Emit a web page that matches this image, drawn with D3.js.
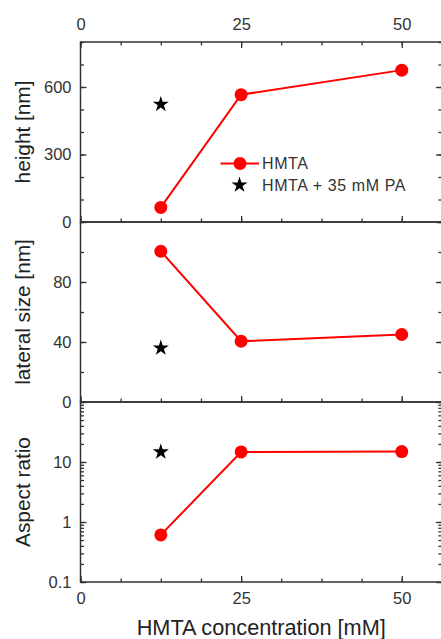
<!DOCTYPE html>
<html>
<head>
<meta charset="utf-8">
<script src="https://cdn.jsdelivr.net/npm/d3@7"></script>
<style>
  body { margin: 0; background: #fff; }
  text { font-family: "Liberation Sans", Arial, sans-serif; }
</style>
</head>
<body>
<svg id="chart" width="441" height="639"></svg>
<script>
// HMTA concentration (x) in mM
var concentrations = [12.5, 25, 50];
var heightHMTA = [65, 566, 675];
var lateralHMTA = [100.5, 40.5, 45];
var aspectHMTA = [0.61, 14.7, 14.9];

// HMTA + 35 mM PA (single point)
var concPA = [12.5];
var heightPA = [523];
var lateralPA = [36];
var aspectPA = [14.7];

var xTicks = [0, 25, 50];
var heightTicks = [0, 300, 600];
var lateralTicks = [0, 40, 80];
var aspectTicks = [0.1, 1, 10];

var legendLabels = ["HMTA", "HMTA + 35 mM PA"];

// Colours
var lineColour = '#ff0000';
var starColour = '#000000';
var axisColour = '#333333';
var labelColour = '#333333';
var titleColour = '#222222';

var svg = d3.select("#chart");

var left = 80.5, right = 441.9;
var x = d3.scaleLinear().domain([0, 56.25]).range([left, right]);
var xMinor = d3.range(0, 56.3, 6.25);

var panels = [
  {
    title: "height [nm]",
    y: d3.scaleLinear().domain([0, 800]).range([222, 42]),
    ticks: heightTicks,
    minor: d3.range(0, 801, 100),
    line: heightHMTA,
    star: heightPA
  },
  {
    title: "lateral size [nm]",
    y: d3.scaleLinear().domain([0, 120]).range([402, 222]),
    ticks: lateralTicks,
    minor: d3.range(0, 121, 20),
    line: lateralHMTA,
    star: lateralPA
  },
  {
    title: "Aspect ratio",
    y: d3.scaleLog().domain([0.1, 100]).range([582, 402]),
    ticks: aspectTicks,
    minor: [0.1, 1, 10].flatMap(function (d) { return d3.range(1, 10).map(function (k) { return d * k; }); }).concat([100]),
    line: aspectHMTA,
    star: aspectPA
  }
];

function styleAxis(g, fontSize) {
  g.select(".domain").remove();
  g.selectAll("line").attr("stroke", axisColour).attr("stroke-width", 1.3);
  g.selectAll("text")
    .attr("fill", labelColour)
    .style("font-family", '"Liberation Sans", Arial, sans-serif')
    .style("font-size", fontSize + "px");
}

var star = d3.symbol().type(d3.symbolStar).size(80);

panels.forEach(function (p, i) {
  var y = p.y;
  var top = y.range()[1], bottom = y.range()[0];

  // left axis, major + minor ticks inward
  svg.append("g").attr("transform", "translate(" + left + ",0)")
    .call(d3.axisLeft(y).tickValues(p.ticks).tickFormat(d3.format("~g")).tickSize(-6).tickPadding(9))
    .call(styleAxis, 16.5);
  svg.append("g").attr("transform", "translate(" + left + ",0)")
    .call(d3.axisLeft(y).tickValues(p.minor).tickFormat("").tickSize(-3.5))
    .call(styleAxis, 16.5);

  // right axis, no labels
  svg.append("g").attr("transform", "translate(" + right + ",0)")
    .call(d3.axisRight(y).tickValues(p.ticks).tickFormat("").tickSize(-6))
    .call(styleAxis, 16.5);
  svg.append("g").attr("transform", "translate(" + right + ",0)")
    .call(d3.axisRight(y).tickValues(p.minor).tickFormat("").tickSize(-3.5))
    .call(styleAxis, 16.5);

  // bottom axis of each panel, ticks pointing up
  svg.append("g").attr("transform", "translate(0," + bottom + ")")
    .call(d3.axisBottom(x).tickValues(xTicks).tickFormat(i === 2 ? d3.format("d") : "").tickSize(-6).tickPadding(10))
    .call(styleAxis, 16.5);
  svg.append("g").attr("transform", "translate(0," + bottom + ")")
    .call(d3.axisBottom(x).tickValues(xMinor).tickFormat("").tickSize(-3.5))
    .call(styleAxis, 16.5);

  if (i === 0) {
    svg.append("g").attr("transform", "translate(0," + top + ")")
      .call(d3.axisTop(x).tickValues(xTicks).tickFormat(d3.format("d")).tickSize(-6).tickPadding(12))
      .call(styleAxis, 16.5);
    svg.append("g").attr("transform", "translate(0," + top + ")")
      .call(d3.axisTop(x).tickValues(xMinor).tickFormat("").tickSize(-3.5))
      .call(styleAxis, 16.5);
  }

  // frame
  svg.append("rect")
    .attr("x", left).attr("y", top)
    .attr("width", right - left).attr("height", bottom - top)
    .attr("fill", "none").attr("stroke", axisColour).attr("stroke-width", 1.5);

  // y title
  svg.append("text")
    .attr("transform", "translate(29.5," + (top + bottom) / 2 + ") rotate(-90)")
    .attr("text-anchor", "middle")
    .attr("fill", titleColour)
    .attr("font-size", 20.8)
    .text(p.title);

  // HMTA series
  var pts = concentrations.map(function (c, k) { return [c, p.line[k]]; });
  svg.append("path")
    .datum(pts)
    .attr("fill", "none")
    .attr("stroke", lineColour)
    .attr("stroke-width", 2)
    .attr("d", d3.line().x(function (d) { return x(d[0]); }).y(function (d) { return y(d[1]); }));
  svg.selectAll(null).data(pts).enter().append("circle")
    .attr("cx", function (d) { return x(d[0]); })
    .attr("cy", function (d) { return y(d[1]); })
    .attr("r", 6.5)
    .attr("fill", lineColour);

  // HMTA + PA star
  var sp = concPA.map(function (c, k) { return [c, p.star[k]]; });
  svg.selectAll(null).data(sp).enter().append("path")
    .attr("d", star)
    .attr("transform", function (d) { return "translate(" + x(d[0]) + "," + y(d[1]) + ")"; })
    .attr("fill", starColour);
});

// x title
svg.append("text")
  .attr("x", (left + right) / 2)
  .attr("y", 635)
  .attr("text-anchor", "middle")
  .attr("fill", titleColour)
  .attr("font-size", 21.7)
  .text("HMTA concentration [mM]");

// legend
var legend = svg.append("g").attr("transform", "translate(240,0)");
legend.append("line")
  .attr("x1", -19.5).attr("x2", 19).attr("y1", 163.5).attr("y2", 163.5)
  .attr("stroke", lineColour).attr("stroke-width", 2);
legend.append("circle").attr("cx", 0).attr("cy", 163.5).attr("r", 6.5).attr("fill", lineColour);
legend.append("path").attr("d", star).attr("transform", "translate(-0.5,185)").attr("fill", starColour);
legend.selectAll("text.lg").data(legendLabels).enter().append("text")
  .attr("class", "lg")
  .attr("x", 22)
  .attr("y", function (d, i) { return 169 + i * 21.5; })
  .attr("fill", labelColour)
  .attr("font-size", 16)
  .attr("letter-spacing", 0.6)
  .text(function (d) { return d; });
</script>
</body>
</html>
